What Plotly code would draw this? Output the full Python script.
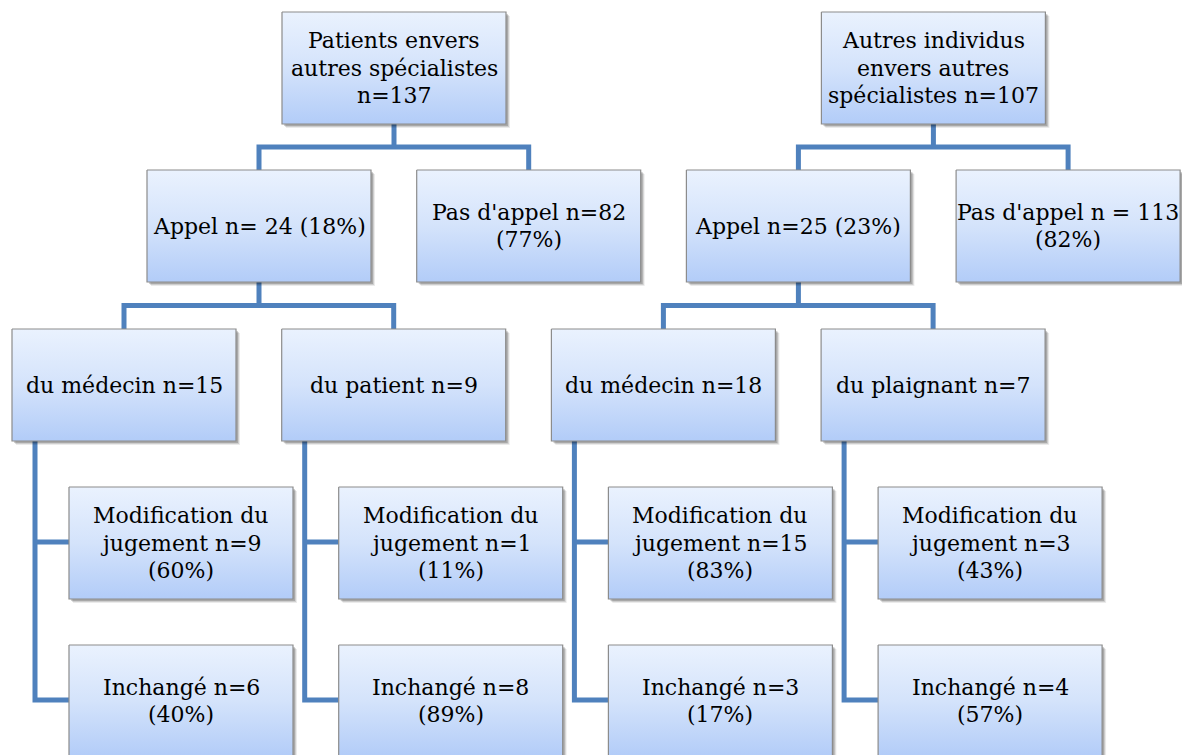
import plotly.graph_objects as go

# ---- data (labels of the tree, one list per level) ----
roots = [
    ["Patients envers", "autres spécialistes", "n=137"],
    ["Autres individus", "envers autres", "spécialistes n=107"],
]
appel = [["Appel n= 24 (18%)"], ["Appel n=25 (23%)"]]
pas_appel = [["Pas d'appel n=82", "(77%)"], ["Pas d'appel n = 113", "(82%)"]]
sources = [["du médecin n=15"], ["du patient n=9"], ["du médecin n=18"], ["du plaignant n=7"]]
modifie = [
    ["Modification du", "jugement n=9", "(60%)"],
    ["Modification du", "jugement n=1", "(11%)"],
    ["Modification du", "jugement n=15", "(83%)"],
    ["Modification du", "jugement n=3", "(43%)"],
]
inchange = [
    ["Inchangé n=6", "(40%)"],
    ["Inchangé n=8", "(89%)"],
    ["Inchangé n=3", "(17%)"],
    ["Inchangé n=4", "(57%)"],
]

# ---- layout geometry ----
W, H = 1190, 755
PAGE_OFF = 8  # default body margin of the html page
BW, BH = 224, 112
PITCH = 269.7
LEFT0 = 12
ROW_TOP = [12, 170, 329, 487, 645]
LINE_COL = "#4f81bd"
LW = 5
FONT = "DejaVu Serif"
FS = 22
LEADING = 27.5

fig = go.Figure()
boxes = []
annotations = []


def add_line(xs, ys):
    fig.add_trace(go.Scatter(x=xs, y=ys, mode="lines",
                             line=dict(color=LINE_COL, width=LW),
                             hoverinfo="skip", showlegend=False))


src_left = [LEFT0 + i * PITCH for i in range(len(sources))]
app_left = [src_left[2 * g] + 135 for g in range(len(appel))]
pas_left = [src_left[2 * g + 1] + 135 for g in range(len(pas_appel))]
root_left = [app_left[g] + 135 for g in range(len(roots))]
leaf_left = [l + 57 for l in src_left]

for g in range(len(roots)):
    boxes.append((root_left[g], ROW_TOP[0], roots[g]))
    boxes.append((app_left[g], ROW_TOP[1], appel[g]))
    boxes.append((pas_left[g], ROW_TOP[1], pas_appel[g]))
    cx = root_left[g] + BW / 2
    ym = (ROW_TOP[0] + BH + ROW_TOP[1]) / 2
    a = app_left[g] + BW / 2
    b = pas_left[g] + BW / 2
    add_line([cx, cx], [ROW_TOP[0] + BH, ym])
    add_line([a, a, b, b], [ROW_TOP[1], ym, ym, ROW_TOP[1]])
    ym2 = (ROW_TOP[1] + BH + ROW_TOP[2]) / 2
    s1 = src_left[2 * g] + BW / 2
    s2 = src_left[2 * g + 1] + BW / 2
    add_line([a, a], [ROW_TOP[1] + BH, ym2])
    add_line([s1, s1, s2, s2], [ROW_TOP[2], ym2, ym2, ROW_TOP[2]])

for i in range(len(sources)):
    boxes.append((src_left[i], ROW_TOP[2], sources[i]))
    boxes.append((leaf_left[i], ROW_TOP[3], modifie[i]))
    boxes.append((leaf_left[i], ROW_TOP[4], inchange[i]))
    vx = src_left[i] + 23
    y_m = ROW_TOP[3] + BH / 2 - 1
    y_i = ROW_TOP[4] + BH / 2 - 1
    add_line([vx, vx, leaf_left[i]], [ROW_TOP[2] + BH, y_i, y_i])
    add_line([vx, leaf_left[i]], [y_m, y_m])

for (x0, y0, lines) in boxes:
    x1, y1 = x0 + BW, y0 + BH
    for off, alpha in ((4, 0.08), (3, 0.12), (2, 0.18)):
        fig.add_trace(go.Scatter(
            x=[x0 + off, x1 + off, x1 + off, x0 + off, x0 + off],
            y=[y0 + off, y0 + off, y1 + off, y1 + off, y0 + off],
            mode="lines", fill="toself", line=dict(width=0),
            fillcolor=f"rgba(0,0,0,{alpha})", hoverinfo="skip", showlegend=False))
    fig.add_trace(go.Scatter(
        x=[x0, x1, x1, x0, x0], y=[y0, y0, y1, y1, y0],
        mode="lines", fill="toself",
        line=dict(color="#8c8c8c", width=1.2),
        fillcolor="#cfe0fb",
        fillgradient=dict(type="vertical",
                          colorscale=[[0, "#eaf2fe"], [0.5, "#d4e3fb"], [1, "#b2ccf8"]],
                          start=y0, stop=y1),
        hoverinfo="skip", showlegend=False))
    n = len(lines)
    cy = (y0 + y1) / 2
    for k, t in enumerate(lines):
        yk = cy + (k - (n - 1) / 2) * LEADING
        annotations.append(dict(x=(x0 + x1) / 2, y=yk, xref="x", yref="y",
                                text=t, showarrow=False,
                                font=dict(family=FONT, size=FS, color="#000000"),
                                xanchor="center", yanchor="middle"))

fig.update_layout(
    width=W, height=H,
    margin=dict(l=0, r=0, t=0, b=0),
    paper_bgcolor="white", plot_bgcolor="white",
    font=dict(family=FONT),
    xaxis=dict(range=[PAGE_OFF, W + PAGE_OFF], visible=False, fixedrange=True),
    yaxis=dict(range=[H + PAGE_OFF, PAGE_OFF], visible=False, fixedrange=True),
    annotations=annotations,
    showlegend=False,
)

fig.write_html("out.html")
